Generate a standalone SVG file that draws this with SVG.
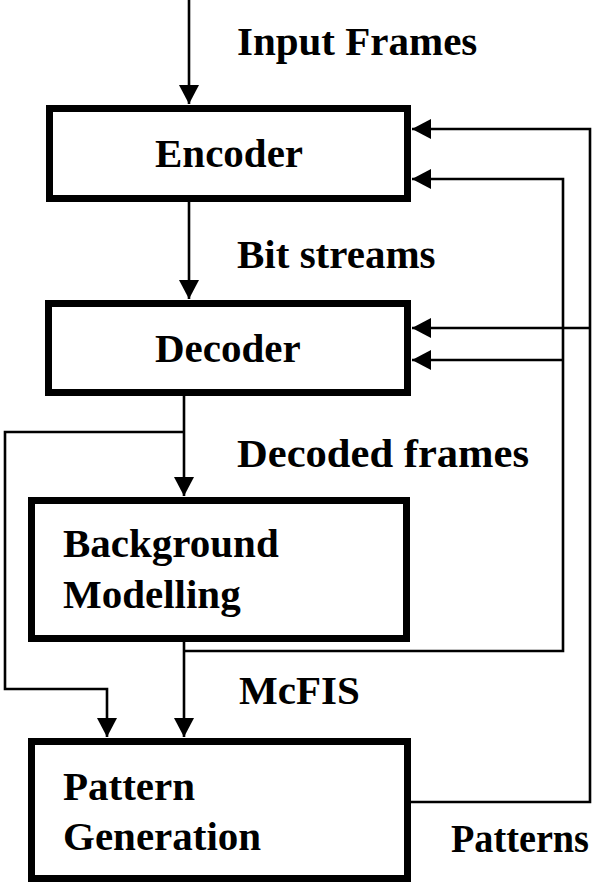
<svg xmlns="http://www.w3.org/2000/svg" width="600" height="886" viewBox="0 0 600 886">
<style>
.box{fill:#fff;stroke:#000;stroke-width:7}
.ln{fill:none;stroke:#000;stroke-width:2.6;stroke-linejoin:miter}
text{font-family:"Liberation Serif","Times New Roman",serif;font-weight:bold;font-size:41px;fill:#000}
</style>
<defs>
<marker id="ah" markerUnits="userSpaceOnUse" markerWidth="22" markerHeight="22" refX="19" refY="10" orient="auto">
<path d="M0,0 L19,10 L0,20 z" fill="#000"/>
</marker>
</defs>
<rect width="600" height="886" fill="#fff"/>
<g id="connectors">
<path class="ln" d="M189,0 V104" marker-end="url(#ah)"/>
<path class="ln" d="M189,202 V299" marker-end="url(#ah)"/>
<path class="ln" d="M184,396 V496" marker-end="url(#ah)"/>
<path class="ln" d="M184,432 H5 V689 H107 V737" marker-end="url(#ah)"/>
<path class="ln" d="M184,642 V737" marker-end="url(#ah)"/>
<path class="ln" d="M184,651 H563 V179 H412" marker-end="url(#ah)"/>
<path class="ln" d="M563,360 H412" marker-end="url(#ah)"/>
<path class="ln" d="M411,802 H590 V129 H412" marker-end="url(#ah)"/>
<path class="ln" d="M590,328 H412" marker-end="url(#ah)"/>
</g>
<g id="labels">
<text x="237" y="55">Input Frames</text>
<text x="237" y="268">Bit streams</text>
<text x="237" y="467" textLength="292" lengthAdjust="spacingAndGlyphs">Decoded frames</text>
<text x="239" y="704">McFIS</text>
<text x="451" y="852" textLength="138" lengthAdjust="spacingAndGlyphs">Patterns</text>
</g>
<g id="encoder">
<rect class="box" x="49.5" y="108.5" width="358" height="90"/>
<text x="155" y="167">Encoder</text>
</g>
<g id="decoder">
<rect class="box" x="48.5" y="303.5" width="359" height="89"/>
<text x="155" y="362">Decoder</text>
</g>
<g id="background-modelling">
<rect class="box" x="31.5" y="500.5" width="375" height="138"/>
<text x="63" y="557">Background</text>
<text x="63" y="608">Modelling</text>
</g>
<g id="pattern-generation">
<rect class="box" x="31.5" y="741.5" width="376" height="137"/>
<text x="63" y="800">Pattern</text>
<text x="63" y="850">Generation</text>
</g>
</svg>
